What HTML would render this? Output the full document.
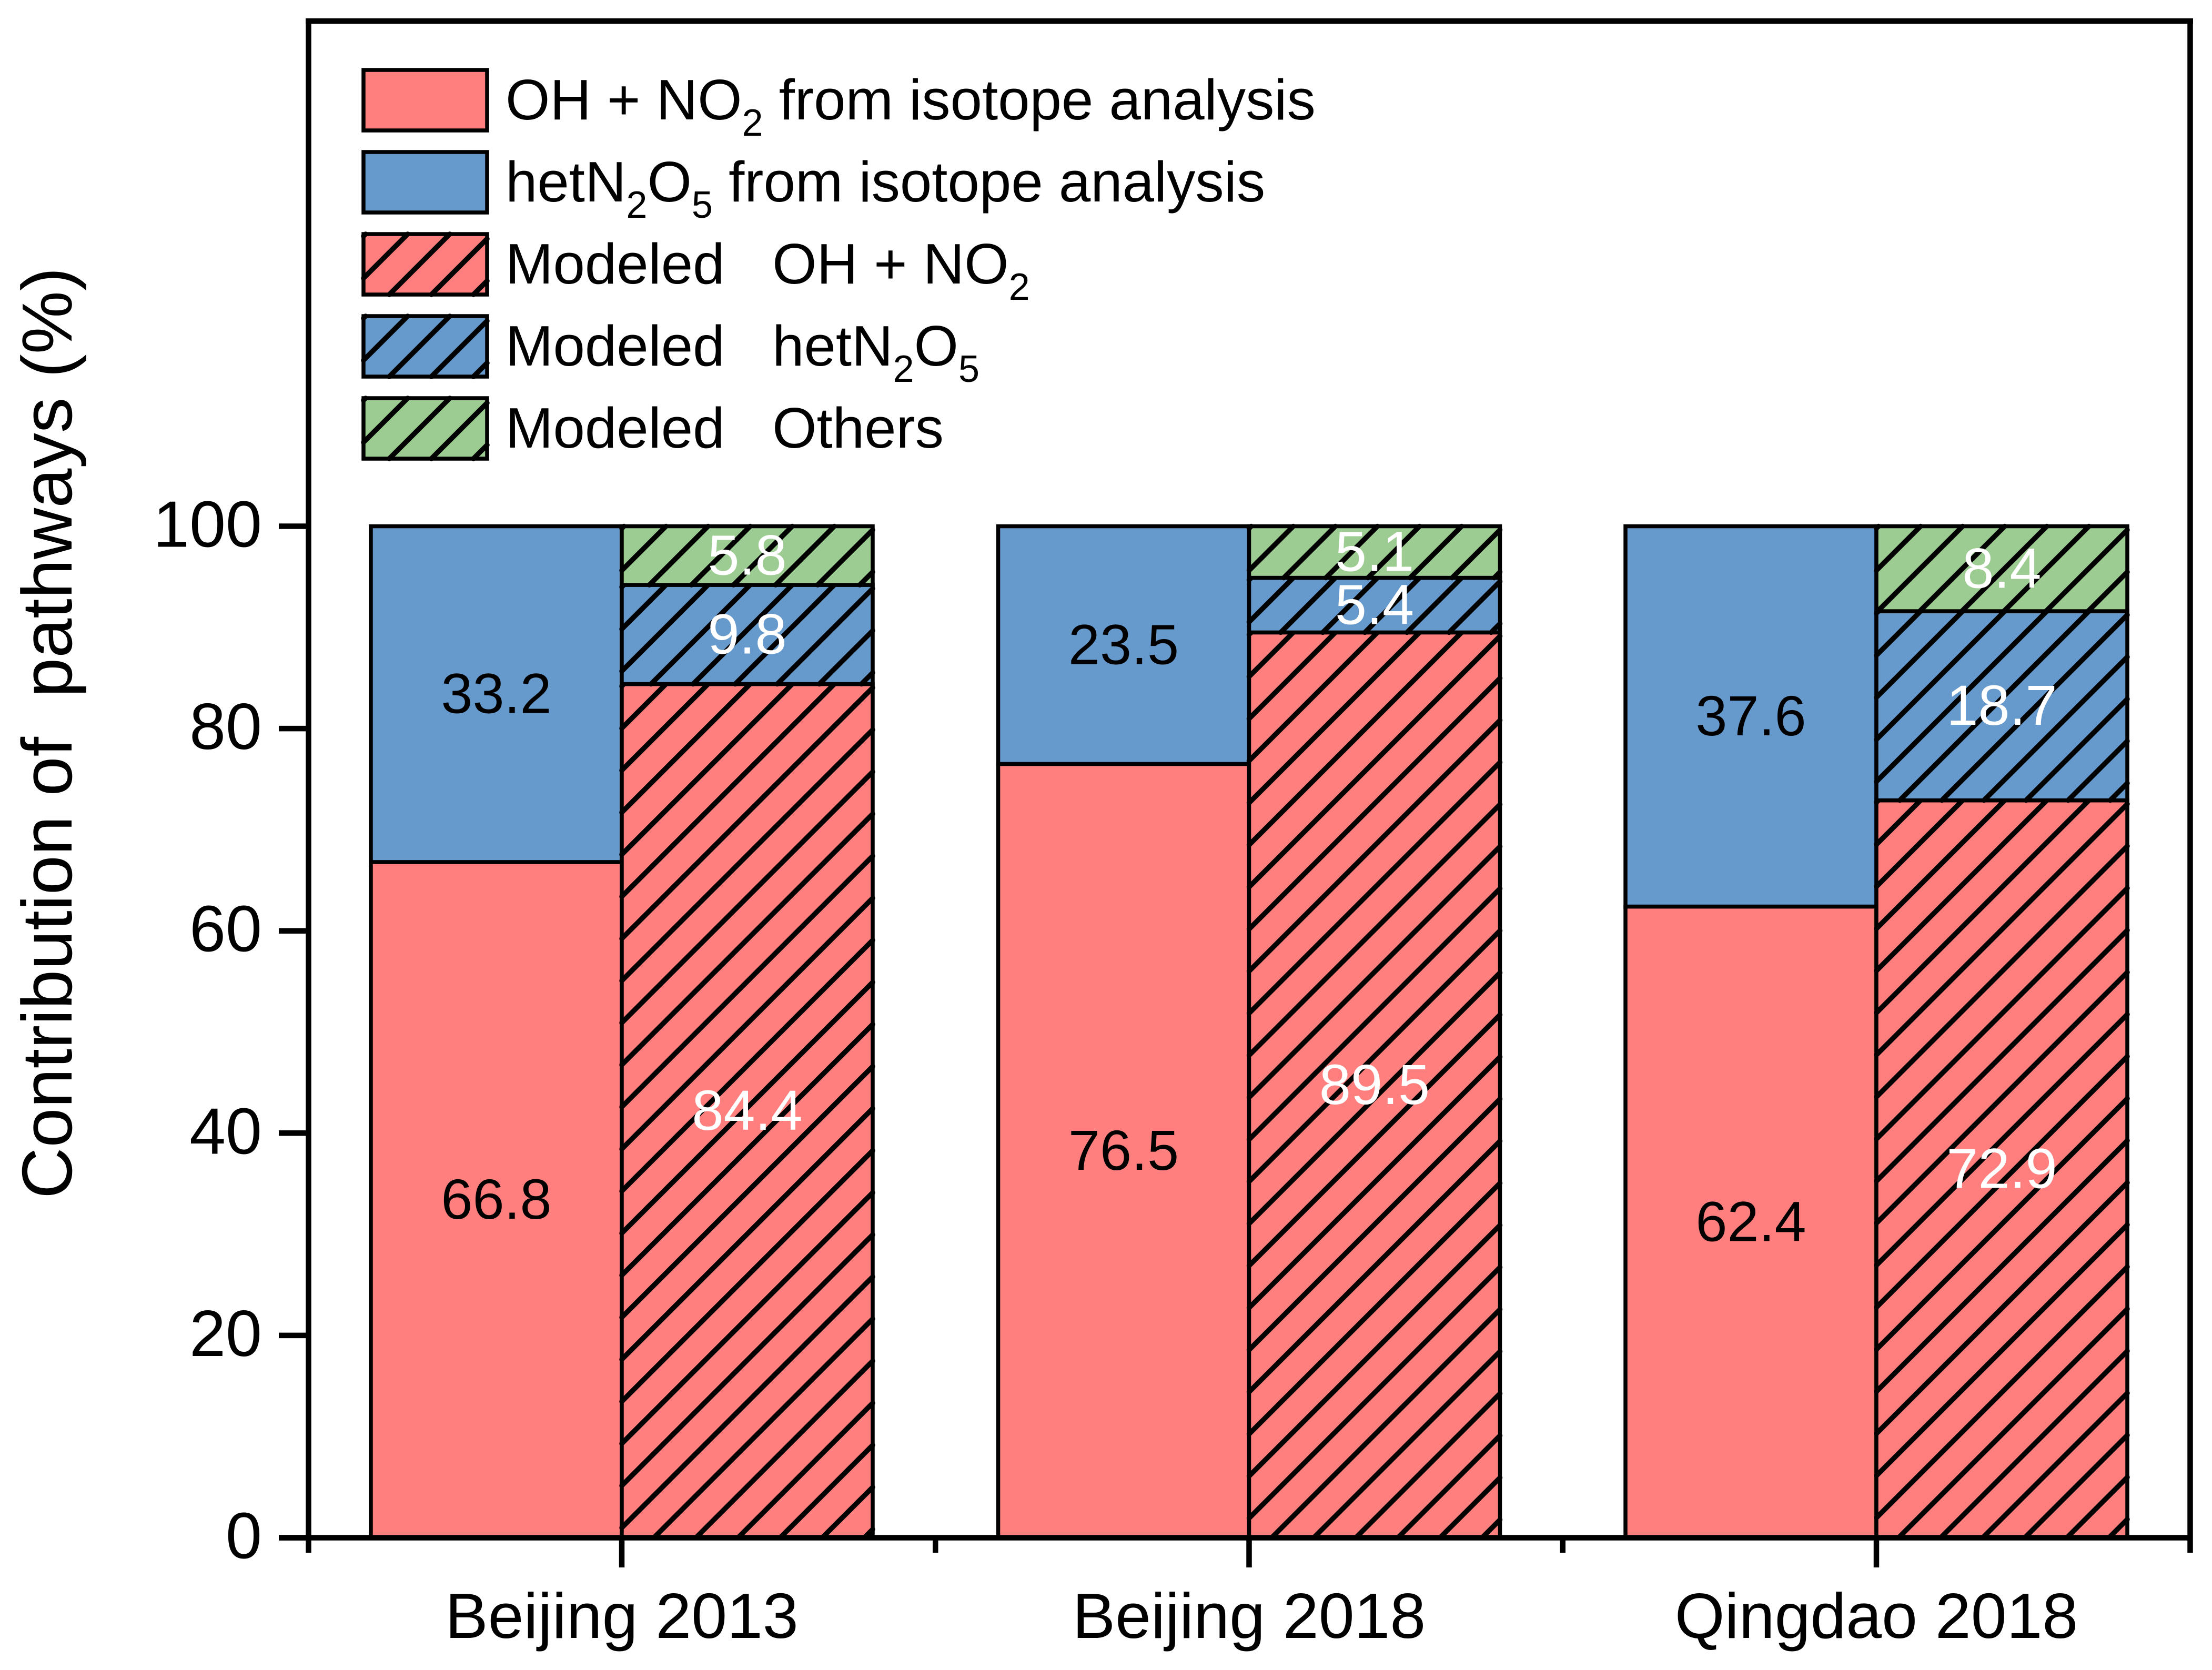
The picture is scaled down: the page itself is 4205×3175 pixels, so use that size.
<!DOCTYPE html>
<html lang="en">
<head>
<meta charset="utf-8">
<title>Contribution of pathways</title>
<style>
html,body{margin:0;padding:0;background:#fff;}
svg{display:block;}
text{font-family:"Liberation Sans",Arial,sans-serif;fill:#000;white-space:pre;}
</style>
</head>
<body>
<svg id="chart" xmlns="http://www.w3.org/2000/svg" width="4205" height="3175" viewBox="0 0 4205 3175">
  <rect x="0" y="0" width="4205" height="3175" fill="#ffffff"/>
  <g id="bars"></g>
  <g id="legend">
    <text x="961" y="227" font-size="108.6" xml:space="preserve">OH + NO<tspan font-size="72" dy="31">2</tspan><tspan dy="-31"> from isotope analysis</tspan></text>
    <text x="961" y="383" font-size="108.6" xml:space="preserve">hetN<tspan font-size="72" dy="31">2</tspan><tspan dy="-31">O</tspan><tspan font-size="72" dy="31">5</tspan><tspan dy="-31"> from isotope analysis</tspan></text>
    <text x="961" y="539" font-size="108.6" xml:space="preserve">Modeled   OH + NO<tspan font-size="72" dy="31">2</tspan></text>
    <text x="961" y="695" font-size="108.6" xml:space="preserve">Modeled   hetN<tspan font-size="72" dy="31">2</tspan><tspan dy="-31">O</tspan><tspan font-size="72" dy="31">5</tspan></text>
    <text x="961" y="851" font-size="108.6" xml:space="preserve">Modeled   Others</text>
  </g>
  <g id="axes"></g>
  <text transform="translate(136,2279) rotate(-90)" font-size="135" xml:space="preserve">Contribution of  pathways (%)</text>
  <g id="labels"></g>
</svg>
<script>
// ---- chart data ----
const categories = ["Beijing 2013", "Beijing 2018", "Qingdao 2018"];
const isotopeOH = [66.8, 76.5, 62.4];
const isotopeHet = [33.2, 23.5, 37.6];
const modeledOH = [84.4, 89.5, 72.9];
const modeledHet = [9.8, 5.4, 18.7];
const modeledOthers = [5.8, 5.1, 8.4];
const yTicks = [0, 20, 40, 60, 80, 100];

// ---- style and scale ----
const RED = "#ff7f7f", BLUE = "#6699cc", GREEN = "#9ccc91";
const NS = "http://www.w3.org/2000/svg";
const barsG = document.getElementById("bars");
const legendG = document.getElementById("legend");
const axesG = document.getElementById("axes");
const labelsG = document.getElementById("labels");

function yScale(v) { return 2923.5 - v * 19.23; }
function xScale(i) { return 1182 + i * 1192.5; }
const BAR_W = 477;

function make(tag, attrs, parent) {
  const e = document.createElementNS(NS, tag);
  for (const k in attrs) e.setAttribute(k, attrs[k]);
  parent.appendChild(e);
  return e;
}

// hatch lines anchored to each rectangle's own top-left corner
function hatch(x0, y0, x1, y1, parent) {
  const step = 80;
  const g = make("g", { stroke: "#000", "stroke-width": 9.5, "stroke-linecap": "round", fill: "none" }, parent);
  
  
  const first = x0 + y0 + 4;
  for (let s = first; s < x1 + y1; s += step) {
    const xa = Math.max(x0, s - y1);
    const xb = Math.min(x1, s - y0);
    if (xb <= xa) continue;
    make("line", { x1: xa, y1: s - xa, x2: xb, y2: s - xb }, g);
  }
}

function box(x0, y0, x1, y1, fill, hatched, parent, name) {
  const f = make("rect", { x: x0, y: y0, width: x1 - x0, height: y1 - y0, fill: fill }, parent);
  
  
  if (hatched) hatch(x0, y0, x1, y1, parent);
  const b = make("rect", { x: x0, y: y0, width: x1 - x0, height: y1 - y0, fill: "none", stroke: "#000", "stroke-width": 7.5 }, parent);
  
  
}

function valueLabel(x, lo, v, color) {
  const t = make("text", { x: x, y: yScale(lo + v / 2) + 36, "font-size": 108, "text-anchor": "middle" }, labelsG);
  
  
  t.style.fill = color;
  t.textContent = v.toFixed(1);
}

// ---- bars ----
categories.forEach(function (c, i) {
  const cx = xScale(i);
  const isoSeries = [[isotopeOH[i], RED, "isotope-oh"], [isotopeHet[i], BLUE, "isotope-het"]];
  let lo = 0;
  isoSeries.forEach(function (s) {
    box(cx - BAR_W, yScale(lo + s[0]), cx, yScale(lo), s[1], false, barsG, "bar-" + s[2]);
    valueLabel(cx - BAR_W / 2, lo, s[0], "#000");
    lo += s[0];
  });
  const modSeries = [[modeledOH[i], RED, "modeled-oh"], [modeledHet[i], BLUE, "modeled-het"], [modeledOthers[i], GREEN, "modeled-others"]];
  lo = 0;
  modSeries.forEach(function (s) {
    box(cx, yScale(lo + s[0]), cx + BAR_W, yScale(lo), s[1], true, barsG, "bar-" + s[2]);
    valueLabel(cx + BAR_W / 2, lo, s[0], "#fff");
    lo += s[0];
  });
});

// ---- legend swatches ----
const swatchFills = [RED, BLUE, RED, BLUE, GREEN];
swatchFills.forEach(function (fill, i) {
  const top = 133 + i * 156;
  box(691, top, 926, top + 115, fill, i >= 2, legendG, "legend-swatch");
});

// ---- axes ----
const FRAME_L = 586.5, FRAME_R = 4163.5, FRAME_T = 40, FRAME_B = 2923.5;
function axisLine(x1, y1, x2, y2, w, name) {
  const l = make("line", { x1: x1, y1: y1, x2: x2, y2: y2, stroke: "#000", "stroke-width": w }, axesG);
  
  
}
axisLine(FRAME_L - 5.5, FRAME_T, FRAME_R + 5.5, FRAME_T, 10.5, "frame-top");
axisLine(FRAME_L, FRAME_T, FRAME_L, 2952, 10.5, "y-axis-line");
axisLine(FRAME_R, FRAME_T, FRAME_R, 2952, 10.5, "frame-right");
axisLine(530, FRAME_B, FRAME_R, FRAME_B, 10.5, "x-axis-line");

yTicks.forEach(function (v) {
  const y = yScale(v);
  axisLine(530, y, FRAME_L, y, 10.5, "y-tick");
  const t = make("text", { x: 498, y: y + 39, "font-size": 124, "text-anchor": "end" }, axesG);
  
  
  t.textContent = v;
});

categories.forEach(function (c, i) {
  const x = xScale(i);
  axisLine(x, FRAME_B, x, 2980, 10.5, "x-tick");
  const t = make("text", { x: x, y: 3114, "font-size": 122, "text-anchor": "middle" }, axesG);
  
  
  t.textContent = c;
  if (i < categories.length - 1) {
    axisLine(x + 596.25, FRAME_B, x + 596.25, 2952, 10.5, "x-minor-tick");
  }
});
</script>
</body>
</html>
